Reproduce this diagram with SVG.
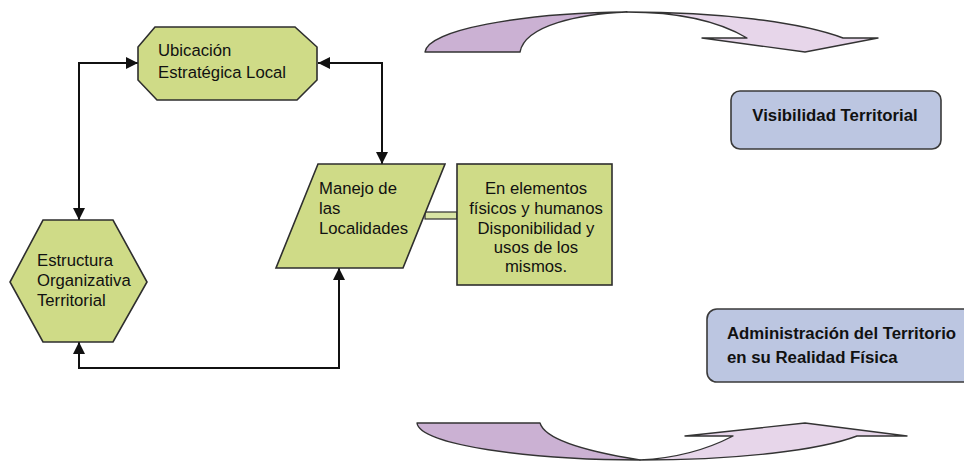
<svg xmlns="http://www.w3.org/2000/svg" width="964" height="462" viewBox="0 0 964 462">
  <style>
    .node { fill: #cfdb87; stroke: #2e2e2e; stroke-width: 1.6; }
    .box { fill: #bcc6e1; stroke: #3a3a3a; stroke-width: 1.6; }
    .lbl { font-family: "Liberation Sans", Arial, sans-serif; font-size: 16.7px; fill: #111; }
    .blbl { font-family: "Liberation Sans", Arial, sans-serif; font-size: 16.8px; font-weight: bold; fill: #111; }
    .wire { fill: none; stroke: #111; stroke-width: 2; marker-start: url(#tip); marker-end: url(#tip); }
    .back { fill: #cbb1d3; stroke: #333; stroke-width: 1.4; stroke-linejoin: round; }
    .front { fill: #e7d6ea; stroke: #333; stroke-width: 1.4; stroke-linejoin: round; }
  </style>
  <defs>
    <marker id="tip" viewBox="0 0 12 12" refX="12" refY="6" markerWidth="12" markerHeight="12" markerUnits="userSpaceOnUse" orient="auto-start-reverse">
      <path d="M0,0 L12,6 L0,12 Z" fill="#111"/>
    </marker>
  </defs>

  <!-- connectors -->
  <g id="connectors">
    <path class="wire" d="M79,220 L79,63 L138,63"/>
    <path class="wire" d="M318,63 L382,63 L382,164"/>
    <path class="wire" d="M79,342 L79,368 L339,368 L339,268"/>
    <rect x="425" y="212" width="32" height="7" fill="#d9e4a4" stroke="#2e2e2e" stroke-width="1.2"/>
  </g>

  <!-- Ubicación Estratégica Local -->
  <g id="ubicacion">
    <polygon class="node" points="155,27 295,27 317,47 317,80 297,100 157,100 138,80 138,47"/>
    <text class="lbl" x="158" y="56">Ubicación</text>
    <text class="lbl" x="158" y="78">Estratégica Local</text>
  </g>

  <!-- Estructura Organizativa Territorial -->
  <g id="estructura">
    <polygon class="node" points="43,220 113,220 147,282 113,342 43,342 10,282"/>
    <text class="lbl" x="37" y="266">Estructura</text>
    <text class="lbl" x="37" y="286">Organizativa</text>
    <text class="lbl" x="37" y="306">Territorial</text>
  </g>

  <!-- Manejo de las Localidades -->
  <g id="manejo">
    <polygon class="node" points="318,164 445,164 403,268 276,268"/>
    <text class="lbl" x="319" y="194">Manejo de</text>
    <text class="lbl" x="319" y="214">las</text>
    <text class="lbl" x="319" y="234">Localidades</text>
  </g>

  <!-- En elementos físicos y humanos -->
  <g id="elementos">
    <rect class="node" x="457" y="164" width="155" height="121"/>
    <text class="lbl" x="536" y="194" text-anchor="middle">En elementos</text>
    <text class="lbl" x="536" y="214" text-anchor="middle">físicos y humanos</text>
    <text class="lbl" x="536" y="234" text-anchor="middle">Disponibilidad y</text>
    <text class="lbl" x="536" y="253" text-anchor="middle">usos de los</text>
    <text class="lbl" x="536" y="272" text-anchor="middle">mismos.</text>
  </g>

  <!-- Visibilidad Territorial -->
  <g id="visibilidad">
    <rect class="box" x="731" y="91" width="210" height="58" rx="9"/>
    <text class="blbl" x="835" y="121" text-anchor="middle">Visibilidad Territorial</text>
  </g>

  <!-- Administración del Territorio -->
  <g id="administracion">
    <rect class="box" x="707" y="309" width="272" height="73" rx="10"/>
    <text class="blbl" x="727" y="339">Administración del Territorio</text>
    <text class="blbl" x="727" y="363">en su Realidad Física</text>
  </g>

  <!-- curved arrow, top -->
  <g id="curva-superior">
    <path class="back" d="M425,52 C428,30 520,13 627,12 C580,14 525,25 520,52 Z"/>
    <path class="front" d="M627,12 C720,12 800,22 843,38 L878,38 L805,52 L702,38 L747,38 C720,22 680,12 627,12 Z"/>
  </g>

  <!-- curved arrow, bottom -->
  <g id="curva-inferior">
    <path class="back" d="M417,423 C420,445 530,460 640,460 C590,452 545,440 540,423 Z"/>
    <path class="front" d="M640,460 C740,460 820,450 857,436 L907,436 L805,423 L685,436 L733,436 C710,448 680,458 640,460 Z"/>
  </g>
</svg>
